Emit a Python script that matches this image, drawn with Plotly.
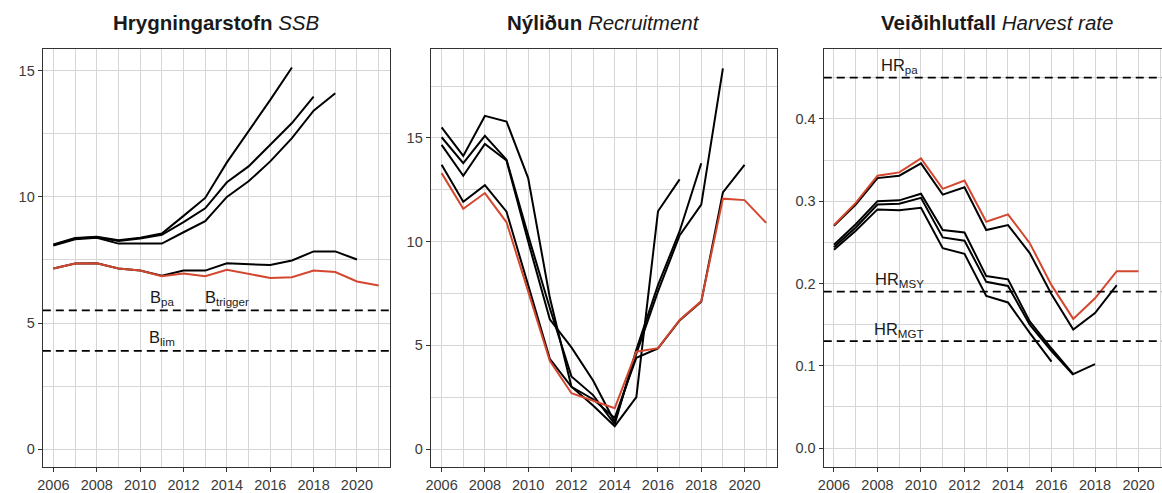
import plotly.graph_objects as go

# ---------------- data ----------------
years = list(range(2006, 2022))

# Spawning stock biomass (SSB), current assessment + retrospective peels
ssb_2021 = [7.16, 7.36, 7.37, 7.16, 7.08, 6.86, 6.96, 6.86, 7.11, 6.94, 6.79, 6.82, 7.08, 7.02, 6.65, 6.49]
ssb_2020 = [7.16, 7.36, 7.37, 7.16, 7.08, 6.88, 7.08, 7.08, 7.37, 7.32, 7.30, 7.48, 7.84, 7.84, 7.52]
ssb_2019 = [8.07, 8.32, 8.38, 8.15, 8.15, 8.15, 8.60, 9.04, 10.00, 10.62, 11.41, 12.33, 13.42, 14.11]
ssb_2018 = [8.10, 8.35, 8.40, 8.25, 8.35, 8.50, 9.00, 9.55, 10.58, 11.21, 12.07, 12.93, 13.98]
ssb_2017 = [8.12, 8.37, 8.42, 8.28, 8.38, 8.55, 9.25, 9.96, 11.37, 12.60, 13.85, 15.13]

# Recruitment
rec_2021 = [13.30, 11.58, 12.34, 10.93, 7.60, 4.25, 2.69, 2.32, 1.97, 4.69, 4.86, 6.22, 7.13, 12.07, 12.00, 10.90]
rec_2020 = [13.70, 11.92, 12.72, 11.44, 7.90, 4.35, 3.00, 2.40, 1.50, 4.40, 4.85, 6.20, 7.10, 12.37, 13.70]
rec_2019 = [14.66, 13.17, 14.71, 13.91, 10.00, 6.25, 4.90, 3.30, 1.30, 4.60, 7.60, 10.30, 11.78, 18.35]
rec_2018 = [15.03, 13.78, 15.10, 13.95, 10.30, 6.80, 3.50, 2.60, 1.20, 4.80, 7.90, 10.50, 13.78]
rec_2017 = [15.51, 14.13, 16.06, 15.79, 13.06, 7.30, 3.00, 2.10, 1.10, 2.50, 11.46, 13.00]

# Harvest rate
hr_2021 = [0.271, 0.298, 0.331, 0.335, 0.352, 0.315, 0.325, 0.275, 0.284, 0.249, 0.198, 0.157, 0.182, 0.215, 0.215]
hr_2020 = [0.270, 0.296, 0.328, 0.331, 0.346, 0.308, 0.317, 0.265, 0.271, 0.237, 0.187, 0.144, 0.164, 0.198]
hr_2019 = [0.247, 0.272, 0.300, 0.301, 0.309, 0.265, 0.262, 0.209, 0.205, 0.154, 0.121, 0.090, 0.102]
hr_2018 = [0.244, 0.268, 0.296, 0.297, 0.304, 0.256, 0.252, 0.202, 0.197, 0.150, 0.118, 0.089]
hr_2017 = [0.241, 0.264, 0.290, 0.289, 0.292, 0.243, 0.236, 0.185, 0.177, 0.140, 0.105]

# Reference points
ssb_refs = [5.5, 3.9]
ssb_ref_labels = [("B<sub>pa</sub>", 2011, 5.5), ("B<sub>trigger</sub>", 2014, 5.5), ("B<sub>lim</sub>", 2011, 3.9)]
hr_refs = [0.45, 0.19, 0.13]
hr_ref_labels = [("HR<sub>pa</sub>", 2009, 0.45), ("HR<sub>MSY</sub>", 2009, 0.19), ("HR<sub>MGT</sub>", 2009, 0.13)]

titles = ["<b>Hrygningarstofn</b> <i>SSB</i>",
          "<b>Nýliðun</b> <i>Recruitment</i>",
          "<b>Veiðihlutfall</b> <i>Harvest rate</i>"]

# ---------------- style ----------------
W, H = 1162, 493
FONT = "Liberation Sans, Arial, Helvetica, sans-serif"
RED = "#D4472F"
GRID = "#D6D6D6"
AXIS = "#333333"
TICKTXT = "#3A3A3A"

def px_x(p):
    return p / W

def px_y(p):
    return 1 - p / H

ydom = [px_y(468), px_y(49)]
xdoms = [[px_x(37), px_x(385.5)], [px_x(427), px_x(775)], [px_x(822), 1.0]]
xranges = [[2005.51, 2021.5], [2005.5, 2021.5], [2005.53, 2021.08]]
yranges = [[-0.71, 15.87], [-0.87, 19.29], [-0.023, 0.485]]
title_centers = [211, 601, 996]

fig = go.Figure()

def add_series(xa, ya, black_list, red):
    for s in black_list:
        fig.add_trace(go.Scatter(x=years[:len(s)], y=s, mode="lines",
                                 line=dict(color="black", width=2),
                                 xaxis=xa, yaxis=ya, showlegend=False, hoverinfo="skip"))
    fig.add_trace(go.Scatter(x=years[:len(red)], y=red, mode="lines",
                             line=dict(color=RED, width=2),
                             xaxis=xa, yaxis=ya, showlegend=False, hoverinfo="skip"))

add_series("x", "y", [ssb_2017, ssb_2018, ssb_2019, ssb_2020], ssb_2021)
add_series("x2", "y2", [rec_2017, rec_2018, rec_2019, rec_2020], rec_2021)
add_series("x3", "y3", [hr_2017, hr_2018, hr_2019, hr_2020], hr_2021)

# reference lines
for v in ssb_refs:
    fig.add_shape(type="line", xref="x domain", yref="y", x0=0, x1=1, y0=v, y1=v,
                  line=dict(color="black", width=1.8, dash="8px,5px"))
for v in hr_refs:
    fig.add_shape(type="line", xref="x3 domain", yref="y3", x0=0, x1=1, y0=v, y1=v,
                  line=dict(color="black", width=1.8, dash="8px,5px"))

for txt, xv, v in ssb_ref_labels:
    fig.add_annotation(x=xv, y=v + 0.5, xref="x", yref="y", text=txt, showarrow=False,
                       font=dict(family=FONT, size=16.5, color="#1A1A1A"), yanchor="middle")
for txt, xv, v in hr_ref_labels:
    fig.add_annotation(x=xv, y=v + 0.014, xref="x3", yref="y3", text=txt, showarrow=False,
                       font=dict(family=FONT, size=16.5, color="#1A1A1A"), yanchor="middle")

# titles
for i, t in enumerate(titles):
    fig.add_annotation(x=px_x(title_centers[i]), y=px_y(23), xref="paper", yref="paper",
                       text=t, showarrow=False,
                       font=dict(family=FONT, size=20.5, color="#1A1A1A"),
                       xanchor="center", yanchor="middle")

common_x = dict(tickmode="linear", tick0=2006, dtick=2, ticks="outside", ticklen=4,
                tickcolor=AXIS, tickwidth=1, showgrid=True, gridcolor=GRID, gridwidth=1,
                minor=dict(dtick=1, tick0=2006, showgrid=True, gridcolor=GRID, gridwidth=1),
                showline=True, linecolor=AXIS, linewidth=1.3, zeroline=False,
                tickfont=dict(family=FONT, size=14.5, color=TICKTXT))
common_y = dict(ticks="outside", ticklen=4, tickcolor=AXIS, tickwidth=1,
                showgrid=True, gridcolor=GRID, gridwidth=1,
                showline=True, linecolor=AXIS, linewidth=1.3, zeroline=False,
                tickfont=dict(family=FONT, size=14.5, color=TICKTXT))

ydticks = [5, 5, 0.1]
names = ["", "2", "3"]
for i in range(3):
    xa = dict(common_x, domain=xdoms[i], range=xranges[i], anchor="y" + names[i], mirror=True)
    ya = dict(common_y, domain=ydom, range=yranges[i], anchor="x" + names[i],
              tickmode="linear", tick0=0, dtick=ydticks[i],
              minor=dict(dtick=ydticks[i] / 2, tick0=0, showgrid=True, gridcolor=GRID, gridwidth=1),
              mirror=(i < 2))
    if i == 2:
        ya["tickformat"] = ".1f"
    fig.layout["xaxis" + names[i]] = xa
    fig.layout["yaxis" + names[i]] = ya

fig.update_layout(width=W, height=H, margin=dict(l=0, r=0, t=0, b=0),
                  paper_bgcolor="white", plot_bgcolor="white",
                  font=dict(family=FONT), showlegend=False)

fig.write_html("out.html", config={"displayModeBar": False},
               post_script="document.body.style.margin='0';document.body.style.overflow='hidden';")
